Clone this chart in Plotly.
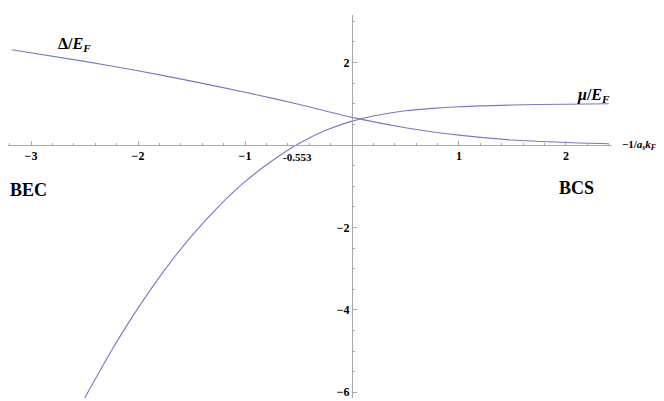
import plotly.graph_objects as go

# values
x_delta = [-3.18, -2.5, -2.0, -1.5, -1.0, -0.5, 0.0, 0.5, 1.0, 1.5, 2.0, 2.4]
delta = [2.31, 2.03, 1.8, 1.55, 1.28, 0.99, 0.67, 0.42, 0.24, 0.12, 0.06, 0.03]

x_mu = [-2.5, -2.25, -2.0, -1.75, -1.5, -1.25, -1.0, -0.75, -0.5, -0.25,
        0.0, 0.25, 0.5, 0.75, 1.0, 1.5, 2.0, 2.4]
mu = [-6.15, -5.0, -3.96, -3.03, -2.21, -1.5, -0.89, -0.39, 0.03, 0.35,
      0.58, 0.73, 0.83, 0.89, 0.93, 0.97, 0.99, 1.0]

x_ticks = [-3, -2, -1, 1, 2]
y_ticks = [-6, -4, -2, 2]

x_range = [-3.215, 2.43]
y_range = [-6.14, 3.155]

line_col = "#7878c6"
axis_col = "#a8a8a8"
serif = "Liberation Serif, Times New Roman, serif"

fig = go.Figure()
fig.add_trace(go.Scatter(x=x_delta, y=delta, mode="lines", line_shape="spline",
                         line=dict(color=line_col, width=1.1, smoothing=0.8)))
fig.add_trace(go.Scatter(x=x_mu, y=mu, mode="lines", line_shape="spline",
                         line=dict(color=line_col, width=1.1, smoothing=0.8)))

# axes cross at the origin, like Mathematica's default
x_pos = (0 - y_range[0]) / (y_range[1] - y_range[0])
y_pos = (0 - x_range[0]) / (x_range[1] - x_range[0])

tick_font = dict(family=serif, size=12, color="black", weight="bold")

# the page body adds an 8px margin, so the figure is 8px smaller
fig.update_layout(
    width=656, height=393,
    margin=dict(l=0, r=52, t=7, b=3),
    paper_bgcolor="white", plot_bgcolor="white",
    showlegend=False,
    xaxis=dict(range=x_range, anchor="free", position=x_pos,
               automargin=False,
               showgrid=False, zeroline=False, showline=True,
               linecolor=axis_col, linewidth=1,
               tickvals=x_ticks, ticks="inside", ticklen=4,
               tickcolor=axis_col,
               minor=dict(dtick=0.2, ticks="inside", ticklen=2,
                          tickcolor=axis_col),
               tickfont=tick_font),
    yaxis=dict(range=y_range, anchor="free", position=y_pos,
               automargin=False,
               showgrid=False, zeroline=False, showline=True,
               linecolor=axis_col, linewidth=1,
               tickvals=y_ticks, ticks="inside", ticklen=4,
               tickcolor=axis_col,
               minor=dict(dtick=0.5, ticks="inside", ticklen=2,
                          tickcolor=axis_col),
               tickfont=tick_font),
)

notes = [
    (-2.59, 2.43, "<b>Δ/<i>E</i><sub><i>F</i></sub></b>", 16),
    (2.26, 1.21, "<b><i>μ</i>/<i>E</i><sub><i>F</i></sub></b>", 16),
    (-3.02, -1.09, "<b>BEC</b>", 18),
    (2.1, -1.05, "<b>BCS</b>", 18),
    (-0.51, -0.3, "<b>-0.553</b>", 11),
]
for x, y, text, size in notes:
    fig.add_annotation(x=x, y=y, text=text, showarrow=False,
                       font=dict(family=serif, size=size, color="black"))

# axis label sits past the end of the x axis
fig.add_annotation(x=1.013, xref="paper", xanchor="left",
                   y=0, yref="y", showarrow=False,
                   text="<b>−1/<i>a</i><sub><i>s</i></sub><i>k</i><sub><i>F</i></sub></b>",
                   font=dict(family=serif, size=11, color="black"))

fig.write_html("out.html")
